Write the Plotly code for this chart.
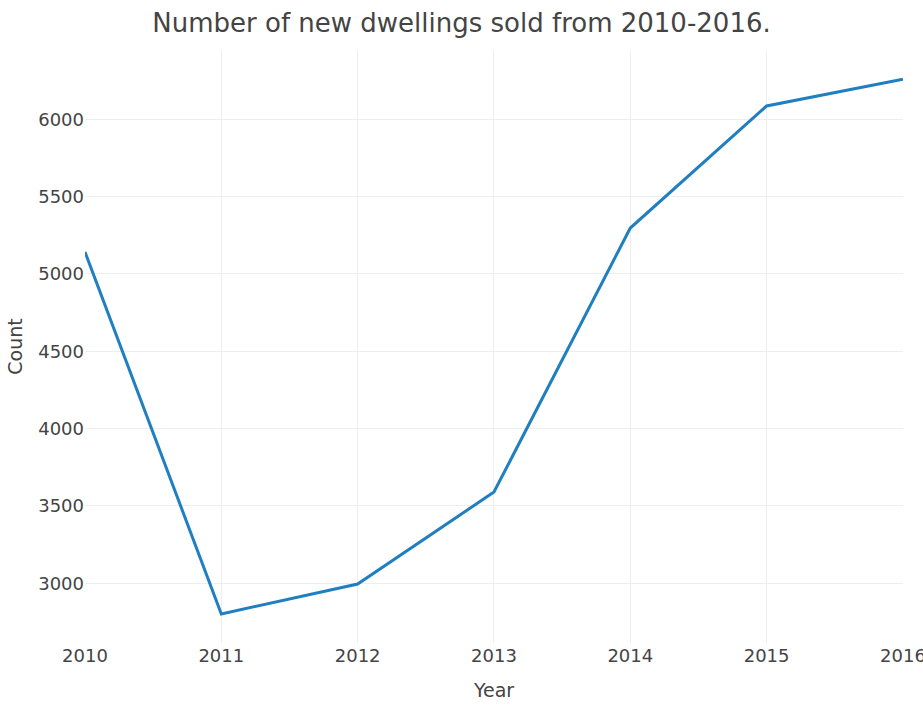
import plotly.graph_objects as go

years = [2010, 2011, 2012, 2013, 2014, 2015, 2016]
dwellings_sold = [5142, 2802, 2995, 3590, 5297, 6086, 6259]

FONT = "DejaVu Sans, Verdana, sans-serif"

fig = go.Figure(
    go.Scatter(
        x=years,
        y=dwellings_sold,
        mode="lines",
        line=dict(color="#1f7fc0", width=3),
    )
)

fig.update_layout(
    width=923,
    height=706,
    margin=dict(l=85, r=20, t=50, b=63, autoexpand=False),
    paper_bgcolor="white",
    plot_bgcolor="white",
    font=dict(family=FONT, size=18, color="#444"),
    title=dict(
        text="Number of new dwellings sold from 2010-2016.",
        x=0.5,
        xanchor="center",
        y=0.968,
        yanchor="middle",
        font=dict(family=FONT, size=26, color="#444"),
    ),
    showlegend=False,
)

fig.update_xaxes(
    title=dict(text="Year", font=dict(size=19), standoff=18),
    range=[2010, 2016.0005],
    tickmode="array",
    tickvals=years,
    ticktext=[str(y) for y in years],
    ticklabeloverflow="allow",
    automargin=False,
    showgrid=True,
    gridcolor="#eee",
    zeroline=False,
    showline=False,
    ticks="",
)
fig.update_yaxes(
    title=dict(text="Count", font=dict(size=19), standoff=10),
    range=[2614, 6448],
    tickmode="linear",
    tick0=3000,
    dtick=500,
    automargin=False,
    showgrid=True,
    gridcolor="#eee",
    zeroline=False,
    showline=False,
    ticks="",
)

fig.write_html("out.html")
